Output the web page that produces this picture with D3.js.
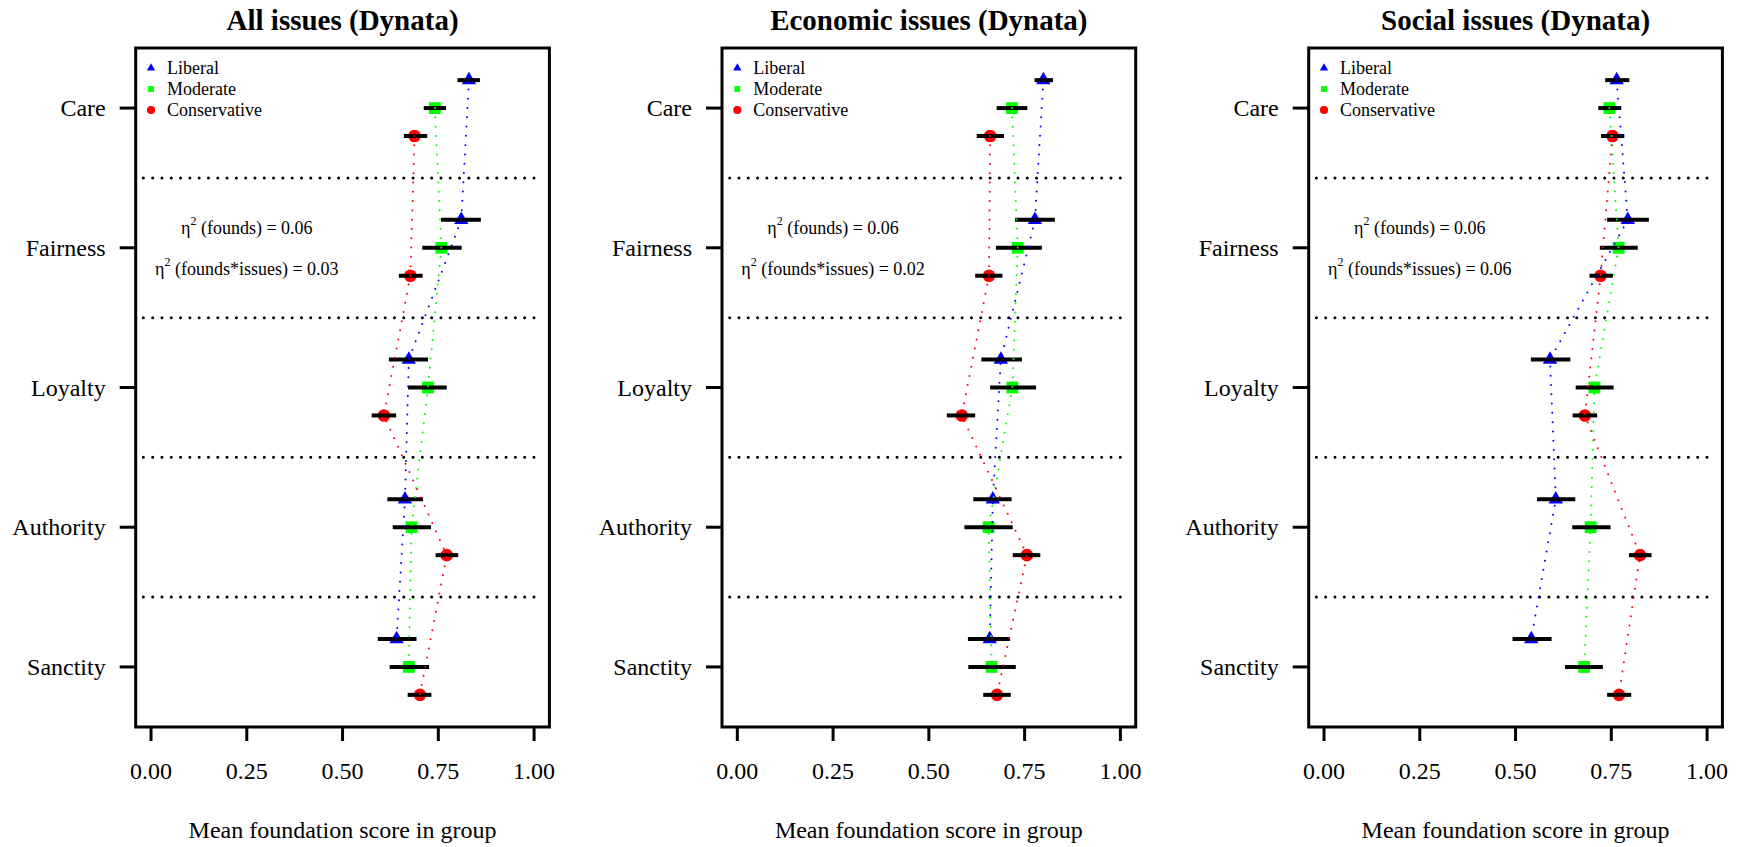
<!DOCTYPE html>
<html>
<head>
<meta charset="utf-8">
<script src="https://cdn.jsdelivr.net/npm/d3@7"></script>
<style>
  body { margin: 0; background: #fff; }
  svg text { font-family: "Liberation Serif", "Times New Roman", Times, serif; fill: #000; }
</style>
</head>
<body>
<script>
// data
var categories = ["Care", "Fairness", "Loyalty", "Authority", "Sanctity"];
var groups = ["Liberal", "Moderate", "Conservative"];
var titles = ["All issues (Dynata)", "Economic issues (Dynata)", "Social issues (Dynata)"];
var etaFounds = ["0.06", "0.06", "0.06"];
var etaInter = ["0.03", "0.02", "0.06"];
var xTicks = [0, 0.25, 0.5, 0.75, 1];

// [panel][group][category]
var means = [
  [[0.830, 0.810, 0.673, 0.663, 0.641],
   [0.741, 0.758, 0.723, 0.680, 0.673],
   [0.688, 0.677, 0.608, 0.772, 0.702]],
  [[0.799, 0.777, 0.688, 0.667, 0.659],
   [0.717, 0.732, 0.718, 0.656, 0.664],
   [0.660, 0.657, 0.586, 0.756, 0.678]],
  [[0.764, 0.793, 0.590, 0.605, 0.541],
   [0.745, 0.769, 0.706, 0.696, 0.679],
   [0.753, 0.722, 0.681, 0.825, 0.770]]
];
var lows = [
  [[0.800, 0.757, 0.621, 0.617, 0.592],
   [0.712, 0.708, 0.671, 0.631, 0.623],
   [0.660, 0.647, 0.576, 0.743, 0.670]],
  [[0.776, 0.725, 0.637, 0.616, 0.602],
   [0.677, 0.675, 0.660, 0.593, 0.603],
   [0.625, 0.621, 0.547, 0.719, 0.642]],
  [[0.734, 0.739, 0.540, 0.556, 0.492],
   [0.716, 0.720, 0.657, 0.648, 0.629],
   [0.723, 0.693, 0.649, 0.796, 0.739]]
];
var highs = [
  [[0.859, 0.861, 0.723, 0.710, 0.693],
   [0.770, 0.811, 0.772, 0.731, 0.726],
   [0.721, 0.709, 0.640, 0.802, 0.732]],
  [[0.824, 0.829, 0.743, 0.716, 0.712],
   [0.757, 0.795, 0.780, 0.719, 0.727],
   [0.696, 0.692, 0.621, 0.791, 0.714]],
  [[0.797, 0.848, 0.643, 0.656, 0.594],
   [0.776, 0.819, 0.756, 0.748, 0.728],
   [0.784, 0.754, 0.713, 0.855, 0.802]]
];

var colors = ["#0000ff", "#00ff00", "#ff0000"];
var shapes = [d3.symbolTriangle, d3.symbolSquare, d3.symbolCircle];
var sizes = [90, 140, 125];
var legSizes = [30, 34, 52];
var offsets = [-0.2, 0, 0.2];

var svg = d3.select('body').append('svg')
   .attr("width", 1743)
   .attr("height", 847)
   .attr("font-family", "Liberation Serif, Times New Roman, serif");

var boxLefts = [135.7, 722, 1308.7];
var boxW = 413.7, boxTop = 48, boxBottom = 727;

var y = d3.scaleLinear().domain([0.57, 5.43]).range([boxTop, boxBottom]);

boxLefts.forEach(function(left, p) {
  var g = svg.append("g");
  var x = d3.scaleLinear().domain([-0.04, 1.04]).range([left, left + boxW]);

  // title
  g.append("text")
    .attr("x", left + boxW / 2).attr("y", 20)
    .attr("text-anchor", "middle").attr("dominant-baseline", "central")
    .style("font-size", "29px").style("font-weight", "bold")
    .text(titles[p]);

  // separators
  g.selectAll(".sep").data([1.5, 2.5, 3.5, 4.5]).enter()
    .append("line")
    .attr("x1", x(-0.02)).attr("x2", x(1.02))
    .attr("y1", function(d) { return y(d); })
    .attr("y2", function(d) { return y(d); })
    .attr("stroke", "#000").attr("stroke-width", 3)
    .attr("stroke-linecap", "round")
    .attr("stroke-dasharray", "0,9.3");

  // markers
  groups.forEach(function(gr, k) {
    g.selectAll(".m" + k).data(means[p][k]).enter()
      .append("path")
      .attr("d", d3.symbol().type(shapes[k]).size(sizes[k]))
      .attr("transform", function(d, i) {
        return "translate(" + x(d) + "," + y(i + 1 + offsets[k]) + ")";
      })
      .attr("fill", colors[k]);
  });

  // error bars
  groups.forEach(function(gr, k) {
    g.selectAll(".e" + k).data(lows[p][k]).enter()
      .append("line")
      .attr("x1", function(d) { return x(d); })
      .attr("x2", function(d, i) { return x(highs[p][k][i]); })
      .attr("y1", function(d, i) { return y(i + 1 + offsets[k]); })
      .attr("y2", function(d, i) { return y(i + 1 + offsets[k]); })
      .attr("stroke", "#000").attr("stroke-width", 4);
  });

  // dotted group lines
  var line = d3.line()
    .x(function(d) { return x(d[0]); })
    .y(function(d) { return y(d[1]); });
  groups.forEach(function(gr, k) {
    var pts = means[p][k].map(function(v, i) { return [v, i + 1 + offsets[k]]; });
    g.append("path")
      .attr("d", line(pts))
      .attr("fill", "none")
      .attr("stroke", colors[k]).attr("stroke-width", 2)
      .attr("stroke-linecap", "round")
      .attr("stroke-dasharray", "0,9.3");
  });

  // box
  g.append("rect")
    .attr("x", left).attr("y", boxTop)
    .attr("width", boxW).attr("height", boxBottom - boxTop)
    .attr("fill", "none").attr("stroke", "#000").attr("stroke-width", 3);

  // x axis
  var xAxis = g.append("g");
  xAxis.selectAll("line").data(xTicks).enter()
    .append("line")
    .attr("x1", function(d) { return x(d); }).attr("x2", function(d) { return x(d); })
    .attr("y1", boxBottom).attr("y2", boxBottom + 14)
    .attr("stroke", "#000").attr("stroke-width", 3);
  xAxis.selectAll("text").data(xTicks).enter()
    .append("text")
    .attr("x", function(d) { return x(d); }).attr("y", 771)
    .attr("text-anchor", "middle").attr("dominant-baseline", "central")
    .style("font-size", "24px")
    .text(function(d) { return d3.format(".2f")(d); });
  g.append("text")
    .attr("x", left + boxW / 2).attr("y", 830)
    .attr("text-anchor", "middle").attr("dominant-baseline", "central")
    .style("font-size", "24px")
    .text("Mean foundation score in group");

  // y axis
  var yAxis = g.append("g");
  yAxis.selectAll("line").data(categories).enter()
    .append("line")
    .attr("x1", left - 16).attr("x2", left)
    .attr("y1", function(d, i) { return y(i + 1); })
    .attr("y2", function(d, i) { return y(i + 1); })
    .attr("stroke", "#000").attr("stroke-width", 3);
  yAxis.selectAll("text").data(categories).enter()
    .append("text")
    .attr("x", left - 30).attr("y", function(d, i) { return y(i + 1); })
    .attr("text-anchor", "end").attr("dominant-baseline", "central")
    .style("font-size", "24px")
    .text(function(d) { return d; });

  // legend
  var leg = g.append("g");
  groups.forEach(function(gr, k) {
    var ly = 68 + k * 21;
    leg.append("path")
      .attr("d", d3.symbol().type(shapes[k]).size(legSizes[k]))
      .attr("transform", "translate(" + x(0) + "," + ly + ")")
      .attr("fill", colors[k]);
    leg.append("text")
      .attr("x", x(0) + 16).attr("y", ly)
      .attr("dominant-baseline", "central")
      .style("font-size", "18px")
      .text(gr);
  });

  // eta squared notes
  var notes = [["(founds) = " + etaFounds[p], 2 - 0.14],
               ["(founds*issues) = " + etaInter[p], 2 + 0.155]];
  notes.forEach(function(n) {
    var t = g.append("text")
      .attr("x", x(0.25)).attr("y", y(n[1]))
      .attr("text-anchor", "middle").attr("dominant-baseline", "central")
      .style("font-size", "18px");
    t.append("tspan").text("η");
    t.append("tspan").attr("dy", -7).style("font-size", "12px").text("2");
    t.append("tspan").attr("dy", 7).text(" " + n[0]);
  });
});
</script>
</body>
</html>
